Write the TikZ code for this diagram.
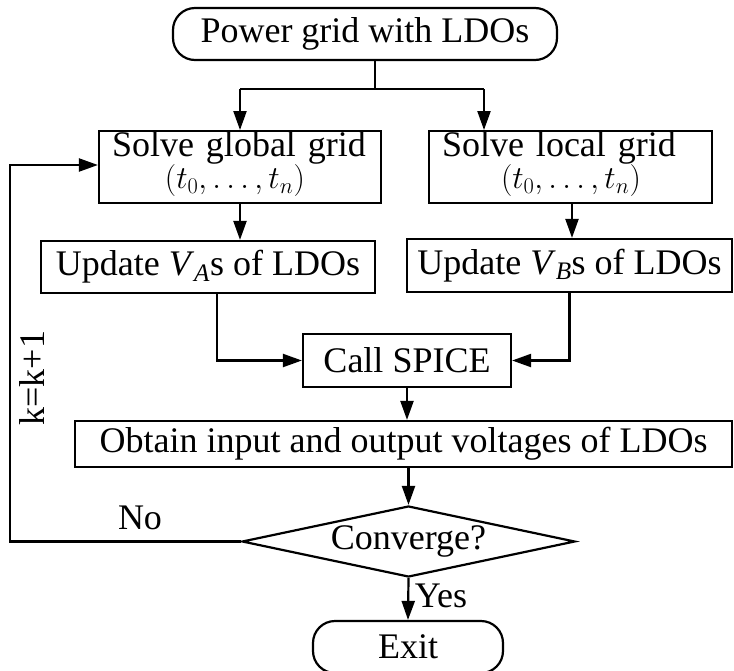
\RequirePackage{fix-cm}
\documentclass[tikz,border=0pt]{standalone}
\usepackage{fontspec}
\setmainfont{Liberation Serif}
\usetikzlibrary{shapes.geometric,arrows.meta}
\newcommand{\tseq}{{\fontsize{32}{31}\selectfont$(t_0,\ldots,t_n)$}\rule[-14pt]{0pt}{0pt}}
\begin{document}
\begin{tikzpicture}[x=1pt,y=-1pt,
  every node/.style={font=\fontsize{36}{31}\selectfont, inner sep=0pt},
  lw/.style={line width=2.2pt},
  box/.style={draw, lw, rectangle},
  term/.style={draw, lw, rectangle, rounded corners=22pt},
  dec/.style={draw, lw, diamond, aspect=4.69},
  arr/.style={lw, -{Triangle[length=19pt,width=13pt]}},
  ln/.style={lw}]
\useasboundingbox (0,0) rectangle (734,670);
\clip (0,0) rectangle (734,670);
\node[term, minimum width=384pt, minimum height=52pt] (top) at (365,34) {Power grid with LDOs};
\node[box, minimum width=282pt, minimum height=70pt, text width=282pt, align=left] (sg) at (240,167)
  {\hspace*{13pt}Solve global grid\\\hspace*{66pt}\tseq};
\node[box, minimum width=283pt, minimum height=70pt, text width=283pt, align=left] (sl) at (570.5,167)
  {\hspace*{13pt}Solve local grid\\\hspace*{72pt}\tseq};
\node[box, minimum width=334pt, minimum height=52pt] (ua) at (208,267) {Update \textit{V}\textsubscript{\textit{A}}s of LDOs};
\node[box, minimum width=325pt, minimum height=53pt] (ub) at (569.5,265.5) {Update \textit{V}\textsubscript{\textit{B}}s of LDOs};
\node[box, minimum width=208pt, minimum height=53pt] (spice) at (407,360.5) {Call SPICE};
\node[box, minimum width=657pt, minimum height=46pt] (ob) at (403.5,444) {Obtain input and output voltages of LDOs};
\node[dec, minimum width=333pt, minimum height=71pt] (dia) at (408.5,541.5) {Converge?};
\node[term, minimum width=190pt, minimum height=52pt] (exit) at (408,647) {Exit};
\node (no) at (140,518) {No};
\node (yes) at (441,596) {Yes};
\node[rotate=90] (kk) at (32,378) {k=k+1};
\coordinate (split) at (375,89);
\coordinate (bl) at (240,89);
\coordinate (br) at (484,89);
\coordinate (lp) at (10,0);
\draw[ln] (top.south -| split) -- (split);
\draw[ln] (bl) -- (br);
\draw[arr] (bl) -- (sg.north);
\draw[arr] (br) -- (br |- sl.north);
\draw[arr] (sg.south) -- (sg.south |- ua.north);
\draw[arr] ([xshift=1.5pt]sl.south) -- ([xshift=1.5pt]sl.south |- ub.north);
\draw[arr] ([xshift=9pt]ua.south) |- (spice.west);
\draw[arr] (ub.south) |- (spice.east);
\draw[arr] (spice.south) -- (spice.south |- ob.north);
\draw[arr] (dia.north |- ob.south) -- (dia.north);
\draw[arr] (dia.south) -- (exit.north);
\draw[arr] (dia.west) -- (dia.west -| lp) |- ([yshift=2pt]sg.west);
\end{tikzpicture}
\end{document}
